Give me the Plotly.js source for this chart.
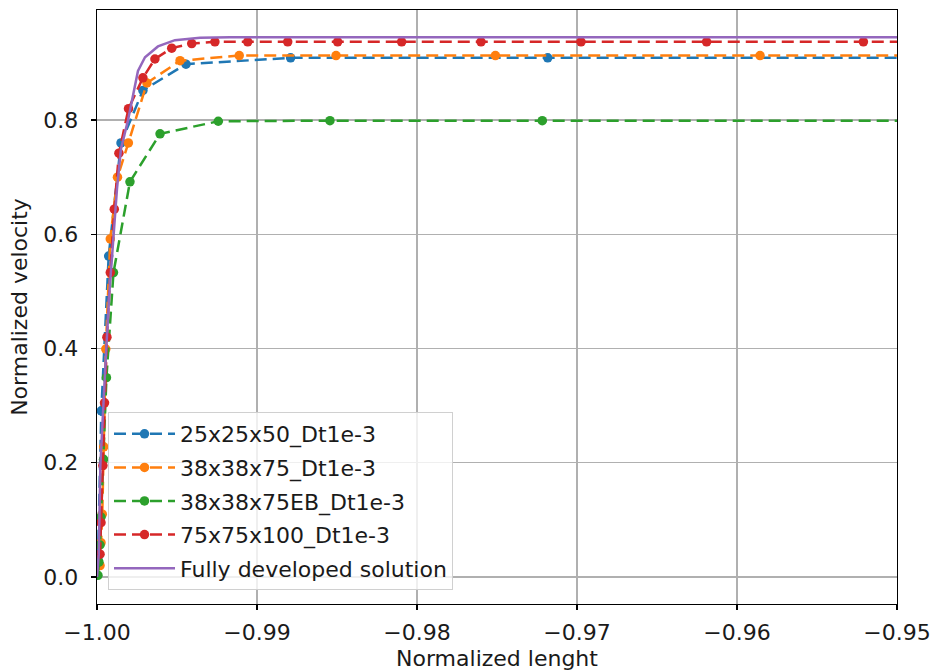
<!DOCTYPE html>
<html><head><meta charset="utf-8">
<script src="https://cdn.plot.ly/plotly-3.0.1.min.js"></script>
<style>html,body{margin:0;padding:0;background:#fff}#chart{width:932px;height:671px}</style>
</head><body><div id="chart"></div>
<script>
// Series names
const names = ["25x25x50_Dt1e-3", "38x38x75_Dt1e-3", "38x38x75EB_Dt1e-3", "75x75x100_Dt1e-3", "Fully developed solution"];

// 25x25x50_Dt1e-3
const blueX = [-0.99994, -0.99973, -0.99927, -0.99850, -0.99713, -0.99444, -0.98790, -0.97183, -0.93260];
const blueY = [0.030, 0.291, 0.562, 0.760, 0.852, 0.898, 0.909, 0.909, 0.909];

// 38x38x75_Dt1e-3
const orangeX = [-0.99981, -0.99975, -0.99967, -0.99958, -0.99945, -0.99917, -0.99872, -0.99804, -0.99688, -0.99481, -0.99111, -0.98506, -0.97510, -0.95856, -0.93150];
const orangeY = [0.020, 0.060, 0.110, 0.228, 0.399, 0.592, 0.700, 0.760, 0.865, 0.904, 0.913, 0.913, 0.913, 0.913, 0.913];

// 38x38x75EB_Dt1e-3
const greenX = [-0.99994, -0.99988, -0.99981, -0.99975, -0.99959, -0.99941, -0.99897, -0.99794, -0.99606, -0.99242, -0.98544, -0.97217, -0.94700];
const greenY = [0.003, 0.026, 0.056, 0.105, 0.206, 0.349, 0.533, 0.692, 0.776, 0.798, 0.799, 0.799, 0.799];

// 75x75x100_Dt1e-3
const redX = [-0.99981, -0.99975, -0.99963, -0.99953, -0.99938, -0.99917, -0.99892, -0.99863, -0.99803, -0.99713, -0.99638, -0.99533, -0.99408, -0.99263, -0.99058, -0.98808, -0.98496, -0.98096, -0.97600, -0.96975, -0.96190, -0.95210, -0.93990];
const redY = [0.040, 0.095, 0.195, 0.305, 0.420, 0.533, 0.644, 0.742, 0.820, 0.874, 0.907, 0.926, 0.934, 0.937, 0.937, 0.937, 0.937, 0.937, 0.937, 0.937, 0.937, 0.937, 0.937];

// Fully developed solution
const purpleX = [-1.0, -0.99989, -0.99979, -0.99963, -0.99944, -0.99922, -0.99897, -0.99875, -0.99850, -0.99806, -0.99744, -0.99700, -0.99619, -0.99513, -0.99356, -0.99169, -0.97, -0.95, -0.94];
const purpleY = [0.000, 0.040, 0.195, 0.290, 0.390, 0.500, 0.600, 0.680, 0.750, 0.800, 0.886, 0.910, 0.929, 0.940, 0.944, 0.945, 0.945, 0.945, 0.945];

const xTicks = [-1.00, -0.99, -0.98, -0.97, -0.96, -0.95];
const yTicks = [0.0, 0.2, 0.4, 0.6, 0.8];

const colors = ["#1f77b4", "#ff7f0e", "#2ca02c", "#d62728", "#9467bd"];
const FONT = "DejaVu Sans, sans-serif";
const FS = 22;
const TXT = "#1a1a1a";
const dash = "12px,6px";

function dashed(x, y, i) {
  return {x: x, y: y, name: names[i], legendgroup: "g" + i, type: "scatter", mode: "lines+markers",
    line: {color: colors[i], width: 2.5, dash: dash},
    marker: {color: colors[i], size: 9.5}};
}
const traces = [
  dashed(blueX, blueY, 0),
  dashed(orangeX, orangeY, 1),
  dashed(greenX, greenY, 2),
  dashed(redX, redY, 3),
  {x: purpleX, y: purpleY, name: names[4], legendgroup: "g4", type: "scatter", mode: "lines",
   line: {color: colors[4], width: 2.5}}
];

const axisCommon = {
  showline: true, mirror: true, linecolor: "#000", linewidth: 1.3,
  ticks: "outside", ticklen: 5, tickwidth: 1.3, tickcolor: "#000",
  showgrid: true, gridcolor: "#b0b0b0", gridwidth: 1.3, zeroline: false,
  tickfont: {family: FONT, size: FS, color: TXT}
};

const layout = {
  width: 932, height: 671,
  margin: {l: 97, r: 35, t: 10, b: 67},
  paper_bgcolor: "#fff", plot_bgcolor: "#fff",
  showlegend: true,
  font: {family: FONT, size: FS, color: TXT},
  xaxis: Object.assign({}, axisCommon, {
    range: [-1.0, -0.95], tickvals: xTicks, tickformat: ".2f",
    ticklabelstandoff: 3,
    title: {text: "Normalized lenght", font: {family: FONT, size: FS, color: TXT}, standoff: 11}
  }),
  yaxis: Object.assign({}, axisCommon, {
    range: [-0.0473, 0.9928], tickvals: yTicks, tickformat: ".1f",
    ticklabelstandoff: 8,
    title: {text: "Normalized velocity", font: {family: FONT, size: FS, color: TXT}, standoff: 9}
  }),
  legend: {
    x: 0.01375, y: 0.0236, xanchor: "left", yanchor: "bottom",
    bgcolor: "rgba(255,255,255,0.8)", bordercolor: "#d0d0d0", borderwidth: 1,
    font: {family: FONT, size: FS, color: TXT},
    tracegroupgap: 2, itemwidth: 61
  }
};

Plotly.newPlot("chart", traces, layout, {staticPlot: true, displayModeBar: false});
</script>
</body></html>
